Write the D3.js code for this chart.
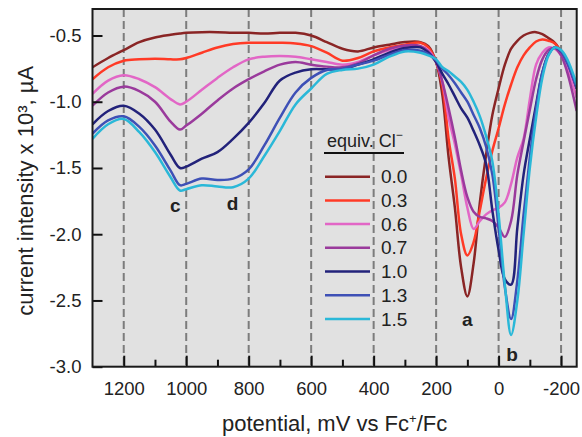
<!DOCTYPE html>
<html>
<head>
<meta charset="utf-8">
<script src="https://cdn.jsdelivr.net/npm/d3@7"></script>
<style>
  html, body { margin: 0; padding: 0; background: #fff; }
  svg { display: block; font-family: "Liberation Sans", Arial, Helvetica, sans-serif; }
</style>
</head>
<body>
<svg id="chart" width="582" height="437"></svg>
<script>
// ---------------- data ----------------
const potentials = [
  1300, 1250, 1200, 1150, 1100,
  1050, 1020, 1000, 950, 900,
  850, 800, 750, 700, 650,
  600, 550, 500, 450, 400,
  350, 300, 250, 225, 200,
  180, 160, 140, 120, 100,
  80, 60, 40, 20, 0,
  -20, -40, -60, -80, -100,
  -120, -140, -160, -180, -200,
  -220, -250
];
const cur00 = [
  -0.74, -0.67, -0.61, -0.55, -0.515,
  -0.495, -0.485, -0.48, -0.475, -0.475,
  -0.48, -0.48, -0.485, -0.48, -0.48,
  -0.50, -0.55, -0.60, -0.62, -0.59,
  -0.57, -0.55, -0.55, -0.58, -0.70,
  -0.95, -1.42, -1.80, -2.25, -2.47,
  -2.22, -1.76, -1.40, -1.10, -0.90,
  -0.72, -0.60, -0.54, -0.50, -0.48,
  -0.475, -0.49, -0.52, -0.555, -0.62,
  -0.71, -0.89
];
const cur03 = [
  -0.83, -0.74, -0.69, -0.68, -0.675,
  -0.68, -0.68, -0.67, -0.63, -0.59,
  -0.565, -0.555, -0.555, -0.555, -0.56,
  -0.58, -0.63, -0.69, -0.67, -0.62,
  -0.59, -0.57, -0.555, -0.59, -0.70,
  -0.88, -1.28, -1.58, -2.00, -2.16,
  -2.06, -1.82, -1.58, -1.37, -1.20,
  -1.02, -0.87, -0.74, -0.65, -0.59,
  -0.545, -0.53, -0.54, -0.56, -0.63,
  -0.72, -0.90
];
const cur06 = [
  -0.94, -0.84, -0.80, -0.83, -0.89,
  -0.98, -1.02, -1.00, -0.91, -0.82,
  -0.74, -0.68, -0.66, -0.655, -0.66,
  -0.68, -0.70, -0.72, -0.70, -0.65,
  -0.61, -0.58, -0.58, -0.61, -0.70,
  -0.85, -1.12, -1.32, -1.55, -1.80,
  -1.96, -1.90, -1.85, -1.82, -1.80,
  -1.76, -1.62, -1.42, -1.28, -0.98,
  -0.72, -0.63, -0.59, -0.60, -0.65,
  -0.75, -0.97
];
const cur07 = [
  -1.03, -0.93, -0.886, -0.92, -1.00,
  -1.15, -1.21, -1.18, -1.09, -0.99,
  -0.90, -0.83, -0.77, -0.72, -0.70,
  -0.72, -0.735, -0.74, -0.71, -0.65,
  -0.60, -0.575, -0.58, -0.62, -0.70,
  -0.85, -1.05, -1.27, -1.52, -1.72,
  -1.83, -1.87, -1.88, -1.90, -1.95,
  -2.02, -1.90, -1.55, -1.30, -1.06,
  -0.83, -0.68, -0.61, -0.595, -0.65,
  -0.78, -1.07
];
const cur10 = [
  -1.17, -1.07, -1.03, -1.09, -1.21,
  -1.40, -1.50, -1.49, -1.43, -1.38,
  -1.28, -1.16, -1.01, -0.84, -0.78,
  -0.755, -0.755, -0.755, -0.72, -0.68,
  -0.63, -0.595, -0.59, -0.63, -0.70,
  -0.79, -0.87, -0.96, -1.05, -1.12,
  -1.22, -1.33, -1.47, -1.82, -2.12,
  -2.34, -2.38, -1.95, -1.55, -1.28,
  -1.02, -0.78, -0.64, -0.59, -0.62,
  -0.70, -0.90
];
const cur13 = [
  -1.24, -1.14, -1.11, -1.19, -1.33,
  -1.52, -1.63, -1.62, -1.58, -1.59,
  -1.58, -1.51, -1.33, -1.12, -0.93,
  -0.82, -0.76, -0.75, -0.72, -0.69,
  -0.645, -0.61, -0.615, -0.64, -0.69,
  -0.75, -0.80, -0.86, -0.93, -1.00,
  -1.10, -1.20, -1.34, -1.55, -1.95,
  -2.40, -2.64, -2.35, -1.85, -1.42,
  -1.05, -0.78, -0.64, -0.59, -0.62,
  -0.71, -0.90
];
const cur15 = [
  -1.28, -1.17, -1.13, -1.23, -1.38,
  -1.57, -1.67, -1.66, -1.63, -1.64,
  -1.645, -1.58, -1.41, -1.22, -1.02,
  -0.90, -0.79, -0.76, -0.75, -0.72,
  -0.66, -0.62, -0.63, -0.65, -0.68,
  -0.74, -0.77, -0.81, -0.85, -0.91,
  -1.00, -1.11, -1.26, -1.45, -1.85,
  -2.38, -2.76, -2.50, -2.00, -1.50,
  -1.12, -0.82, -0.65, -0.59, -0.61,
  -0.68, -0.87
];
const seriesLabels = ["0.0", "0.3", "0.6", "0.7", "1.0", "1.3", "1.5"];
const seriesValues = [cur00, cur03, cur06, cur07, cur10, cur13, cur15];
const seriesColors = ["#8a2525", "#ff3a26", "#e266c6", "#9a3a9c", "#22227a", "#3e50b6", "#2ab8d8"];
const xMajorTicks = [1200, 1000, 800, 600, 400, 200, 0, -200];
const xMinorTicks = [1100, 900, 700, 500, 300, 100, -100];
const yTicks = [-0.5, -1.0, -1.5, -2.0, -2.5, -3.0];
const peakLabels = [
  { t: "c", x: 1035, y: -1.78 },
  { t: "d", x: 852, y: -1.77 },
  { t: "a", x: 100, y: -2.64 },
  { t: "b", x: -43, y: -2.91 }
];

// ---------------- layout ----------------
const L = 92.5, R = 576.7, T = 9, B = 366.7;
const svg = d3.select("#chart");
const x = d3.scaleLinear().domain([1300, -250]).range([L, R]);
const y = d3.scaleLinear().domain([-3.0, -0.3]).range([B, T]);

svg.append("rect").attr("x", L).attr("y", T).attr("width", R - L).attr("height", B - T)
  .attr("fill", "#e1e1e1");

// dashed vertical grid
svg.append("g").selectAll("line").data(xMajorTicks).join("line")
  .attr("x1", d => x(d)).attr("x2", d => x(d))
  .attr("y1", T).attr("y2", B)
  .attr("stroke", "#7c7c7c").attr("stroke-width", 2)
  .attr("stroke-dasharray", "8,4");

// curves
const line = d3.line()
  .x((d, i) => x(potentials[i]))
  .y(d => y(d))
  .curve(d3.curveCatmullRom.alpha(0.5));

svg.append("clipPath").attr("id", "clip")
  .append("rect").attr("x", L).attr("y", T).attr("width", R - L).attr("height", B - T);

svg.append("g").attr("clip-path", "url(#clip)")
  .selectAll("path").data(seriesValues).join("path")
  .attr("d", d => line(d))
  .attr("fill", "none")
  .attr("stroke", (d, i) => seriesColors[i])
  .attr("stroke-width", 2.5)
  .attr("stroke-linejoin", "round");

// axes
const fmtX = d => String(d);
const fmtY = d => d.toFixed(1);

const gx = svg.append("g").attr("transform", `translate(0,${B})`)
  .call(d3.axisBottom(x).tickValues(xMajorTicks).tickFormat(fmtX)
    .tickSizeInner(-11).tickSizeOuter(0).tickPadding(15));
const gxm = svg.append("g").attr("transform", `translate(0,${B})`)
  .call(d3.axisBottom(x).tickValues(xMinorTicks).tickFormat("")
    .tickSizeInner(-7).tickSizeOuter(0));
const gy = svg.append("g").attr("transform", `translate(${L},0)`)
  .call(d3.axisLeft(y).tickValues(yTicks).tickFormat(fmtY)
    .tickSizeInner(-10).tickSizeOuter(0).tickPadding(11));

[gx, gxm, gy].forEach(g => {
  g.select(".domain").remove();
  g.selectAll(".tick line").attr("stroke", "#111").attr("stroke-width", 2);
  g.selectAll("text").attr("fill", "#222").attr("font-size", 18.5);
});

// frame
svg.append("rect").attr("x", L).attr("y", T).attr("width", R - L).attr("height", B - T)
  .attr("fill", "none").attr("stroke", "#1a1a1a").attr("stroke-width", 2);

// axis titles
const xt = svg.append("text").attr("x", (L + R) / 2).attr("y", 431)
  .attr("text-anchor", "middle").attr("font-size", 22).attr("fill", "#222");
xt.append("tspan").text("potential, mV vs Fc");
xt.append("tspan").text("+").attr("font-size", 13).attr("dy", -8);
xt.append("tspan").text("/Fc").attr("dy", 8);

svg.append("text").attr("transform", `translate(33,${(T + B) / 2 + 3}) rotate(-90)`)
  .attr("text-anchor", "middle").attr("font-size", 22).attr("fill", "#222")
  .text("current intensity x 10\u00B3, \u00B5A");

// peak labels
svg.append("g").selectAll("text").data(peakLabels).join("text")
  .attr("x", d => x(d.x)).attr("y", d => y(d.y))
  .attr("text-anchor", "middle").attr("dy", "0.35em")
  .attr("font-size", 19).attr("font-weight", "bold").attr("fill", "#222")
  .text(d => d.t);

// legend
const lg = svg.append("g");
const lt = lg.append("text").attr("x", 327).attr("y", 147).attr("font-size", 18).attr("fill", "#222");
lt.append("tspan").text("equiv. Cl");
lt.append("tspan").text("\u2212").attr("font-size", 12).attr("dy", -8);
lg.append("line").attr("x1", 324).attr("x2", 404).attr("y1", 153).attr("y2", 153)
  .attr("stroke", "#111").attr("stroke-width", 2);
const items = lg.selectAll("g.item").data(seriesLabels).join("g")
  .attr("class", "item")
  .attr("transform", (d, i) => `translate(0,${176.7 + i * 23.7})`);
items.append("line").attr("x1", 325).attr("x2", 370).attr("y1", 0).attr("y2", 0)
  .attr("stroke", (d, i) => seriesColors[i]).attr("stroke-width", 2.5);
items.append("text").attr("x", 381).attr("y", 0).attr("dy", "0.35em")
  .attr("font-size", 19).attr("fill", "#222").text(d => d);
</script>
</body>
</html>
